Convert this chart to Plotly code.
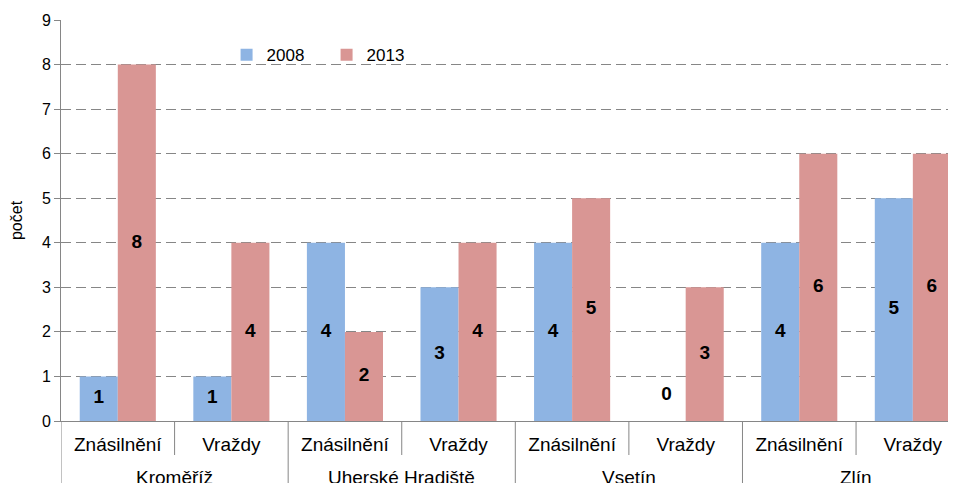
import plotly.graph_objects as go

districts = ["Kroměříž", "Uherské Hradiště", "Vsetín", "Zlín"]
crimes = ["Znásilnění", "Vraždy"]
values_2008 = [1, 1, 4, 3, 4, 0, 4, 5]
values_2013 = [8, 4, 2, 4, 5, 3, 6, 6]
y_ticks = list(range(0, 10))

BLUE = "#8EB4E3"
RED = "#D99694"
GRID = "#868686"
FONT = "Liberation Sans, Arial, sans-serif"

n = len(values_2008)
xpos = list(range(n))
tick_text = [crimes[i % len(crimes)] for i in xpos]

BAR_W = 0.335  # width of one bar in category units

fig = go.Figure()
for name, vals, col, sign in [("2008", values_2008, BLUE, -1), ("2013", values_2013, RED, 1)]:
    fig.add_trace(go.Bar(
        name=name, x=xpos, y=vals,
        marker=dict(color=col, line=dict(width=0)),
        width=BAR_W, offset=(0 if sign > 0 else -BAR_W),
        hoverinfo="x+y",
    ))

for vals, sign in [(values_2008, -1), (values_2013, 1)]:
    fig.add_trace(go.Scatter(
        x=[i + sign * BAR_W / 2 for i in xpos],
        y=[v / 2 if v > 0 else 0.58 for v in vals],
        mode="text", text=[str(v) for v in vals],
        textposition="middle center",
        textfont=dict(family=FONT, size=19, color="black", weight="bold"),
        showlegend=False, hoverinfo="skip", cliponaxis=False,
    ))

PLOT_H = 401
shapes = []
for b in range(n + 1):
    xb = b - 0.5
    depth = 62 if b % 2 == 0 else 34
    shapes.append(dict(type="line", xref="x", yref="paper", x0=xb, x1=xb,
                       y0=0, y1=-depth / PLOT_H, line=dict(color=GRID, width=1)))

annotations = []
for g, d in enumerate(districts):
    annotations.append(dict(text=d, xref="x", yref="paper", x=2 * g + 0.5, y=0,
                            yshift=-56, yanchor="middle", showarrow=False,
                            font=dict(size=19, family=FONT, color="black")))

# page body has an 8px default margin: figure sized so the plot lands where the reference has it
fig.update_layout(
    width=948, height=475,
    margin=dict(l=53, r=0, t=12, b=62),
    paper_bgcolor="white", plot_bgcolor="white",
    font=dict(family=FONT, color="black"),
    showlegend=True,
    legend=dict(orientation="h", x=0.185, y=0.912, xanchor="left", yanchor="middle",
                font=dict(size=17, family=FONT), entrywidth=55, entrywidthmode="pixels",
                bgcolor="rgba(0,0,0,0)", traceorder="normal"),
    shapes=shapes,
    annotations=annotations,
    xaxis=dict(
        range=[-0.5, 7.38], automargin=False,
        tickvals=xpos, ticktext=tick_text,
        showline=True, linecolor=GRID, linewidth=1,
        ticks="outside", ticklen=6, tickcolor="rgba(0,0,0,0)",
        tickfont=dict(size=19, family=FONT, color="black"),
        showgrid=False, zeroline=False, fixedrange=True,
    ),
    yaxis=dict(
        range=[0, 9], automargin=False,
        tickvals=y_ticks, ticktext=[str(t) for t in y_ticks],
        showline=True, linecolor=GRID, linewidth=1,
        ticks="outside", ticklen=6, tickcolor=GRID,
        showgrid=True, gridcolor=GRID, griddash="10px,5px", gridwidth=1,
        zeroline=False,
        tickfont=dict(size=16, family=FONT, color="black"),
        title=dict(text="počet", font=dict(size=16, family=FONT), standoff=17),
    ),
)

fig.write_html("out.html")
